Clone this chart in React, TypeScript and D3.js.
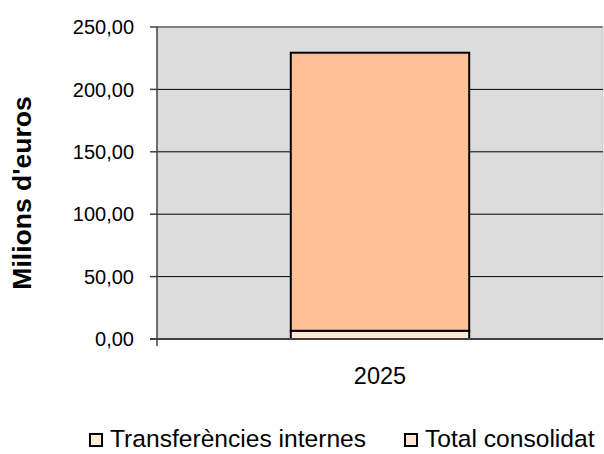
import React from "react";
import * as d3 from "d3";

const categories = ["2025"];
const seriesNames = ["Transferències internes", "Total consolidat"];
const transferencies = [6.6];
const totalConsolidat = [222.8];
const yTicks = [0, 50, 100, 150, 200, 250];
const barColors = ["#FFE9D6", "#FFBF97"];
const legendColors = ["#FFEEDD", "#FFE6D2"];

export default function App() {
  const W = 604, H = 454;
  const left = 157, right = 603, top = 27, bottom = 339;
  const x = d3.scaleBand<string>().domain(categories).range([left, right]).paddingInner(0.596).paddingOuter(0.303);
  const y = d3.scaleLinear().domain([0, 250]).range([bottom, top]);
  const fmt = (v: number) => v.toFixed(2).replace(".", ",");
  const stacks = categories.map((c, i) => {
    const a = transferencies[i];
    const b = totalConsolidat[i];
    return [
      { c, y0: 0, y1: a, color: barColors[0] },
      { c, y0: a, y1: a + b, color: barColors[1] },
    ];
  });
  const font = "Arial, 'Liberation Sans', sans-serif";
  return (
    <svg width={W} height={H} style={{ position: "absolute", left: 0, top: 0, background: "#fff" }} fontFamily={font}>
      <rect x={left} y={top} width={right - left} height={bottom - top} fill="#DCDCDC" />
      <line x1={left} x2={right} y1={top} y2={top} stroke="#808080" strokeWidth={2} />
      <line x1={right} x2={right} y1={top} y2={bottom} stroke="#C8C8C8" strokeWidth={1} />
      {yTicks.filter(t => t > 0 && t < 250).map(t => (
        <line key={t} x1={left} x2={right} y1={y(t)} y2={y(t)} stroke="#000" strokeWidth={1} />
      ))}
      {stacks.map((segs, i) =>
        segs.map((s, j) => (
          <rect key={`${i}-${j}`} x={x(s.c)!} width={x.bandwidth()} y={y(s.y1)} height={y(s.y0) - y(s.y1)}
            fill={s.color} stroke="#000" strokeWidth={2} />
        ))
      )}
      <line x1={left} x2={left} y1={top} y2={bottom + 7} stroke="#404040" strokeWidth={1.5} />
      <line x1={left - 7} x2={right} y1={bottom} y2={bottom} stroke="#404040" strokeWidth={2} />
      {yTicks.map(t => (
        <g key={t}>
          <line x1={left - 7} x2={left} y1={y(t)} y2={y(t)} stroke="#404040" strokeWidth={1.5} />
          <text x={134} y={y(t)} dy="0.36em" textAnchor="end" fontSize={20} fill="#000">{fmt(t)}</text>
        </g>
      ))}
      {categories.map(c => (
        <text key={c} x={x(c)! + x.bandwidth() / 2} y={384} textAnchor="middle" fontSize={23.5} fill="#000">{c}</text>
      ))}
      <text transform={`translate(31,${(top + bottom) / 2 + 10}) rotate(-90)`} textAnchor="middle" fontSize={26.5} fontWeight="bold" fill="#000">Milions d'euros</text>
      {seriesNames.map((n, i) => {
        const lx = i === 0 ? 90 : 405;
        return (
          <g key={n}>
            <rect x={lx} y={434} width={12} height={12} fill={legendColors[i]} stroke="#000" strokeWidth={2} />
            <text x={lx + 20} y={447} fontSize={24.6} fill="#000">{n}</text>
          </g>
        );
      })}
    </svg>
  );
}
